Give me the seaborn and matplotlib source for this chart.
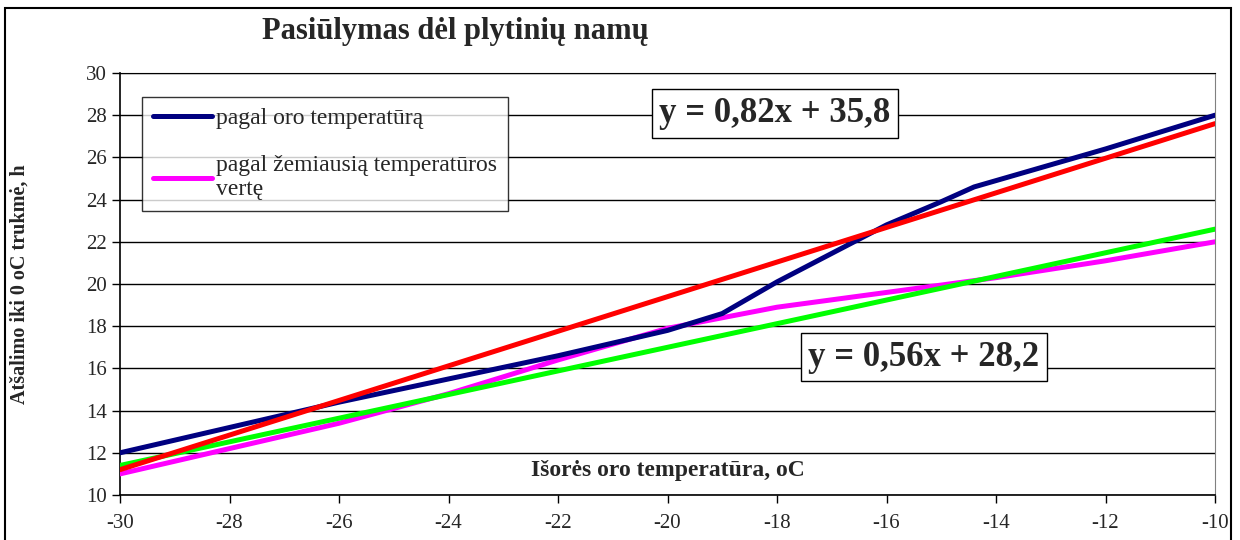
import matplotlib
matplotlib.use("Agg")
import numpy as np
import pandas as pd
import seaborn as sns
import matplotlib.pyplot as plt
from matplotlib.patches import Rectangle

# data
temp_air = [-30, -28, -26, -24, -22, -20, -19, -18, -16, -15, -14.4, -12, -10]
hours_air = [12.0, 13.2, 14.4, 15.5, 16.6, 17.8, 18.6, 20.1, 22.8, 23.9, 24.6, 26.4, 28.0]

temp_low = [-30, -28, -26, -24, -22, -20, -18, -16, -14, -12, -10]
hours_low = [11.0, 12.2, 13.4, 14.8, 16.4, 17.9, 18.9, 19.6, 20.3, 21.1, 22.0]

trend_x = [-30, -10]
trend_red = [11.2, 27.6]
trend_green = [11.4, 22.6]

label_air = "pagal oro temperatūrą"
label_low = "pagal žemiausią temperatūros\nvertę"
eq_red = "y = 0,82x + 35,8"
eq_green = "y = 0,56x + 28,2"

sns.set_style("white")
plt.rcParams['font.family'] = ['Liberation Serif', 'DejaVu Serif']
plt.rcParams['axes.unicode_minus'] = False

fig = plt.figure(figsize=(12.4, 5.4), dpi=100)
ax = fig.add_axes([120 / 1240, 45 / 540, 1095 / 1240, 422 / 540])

air = pd.DataFrame({"t": temp_air, "h": hours_air})
low = pd.DataFrame({"t": temp_low, "h": hours_low})

sns.lineplot(data=air, x="t", y="h", ax=ax, color="#000080", lw=3.6,
             label=label_air, zorder=4)
sns.lineplot(data=low, x="t", y="h", ax=ax, color="#ff00ff", lw=3.6,
             label=label_low, zorder=3)
sns.lineplot(x=trend_x, y=trend_red, ax=ax, color="#ff0000", lw=3.6, zorder=5)
sns.lineplot(x=trend_x, y=trend_green, ax=ax, color="#00ff00", lw=3.6, zorder=4)

ax.set_xlim(-30, -10)
ax.set_ylim(10, 30)
ax.set_xticks(np.arange(-30, -9, 2))
ax.set_yticks(np.arange(10, 31, 2))
ax.yaxis.grid(True, color="black", lw=1)
ax.xaxis.grid(False)
ax.tick_params(axis="both", labelsize=15, length=6, width=1, color="black",
               direction="out", left=True, bottom=True)
ax.tick_params(axis="x", pad=8)
for side in ["left", "bottom"]:
    ax.spines[side].set_color("black")
    ax.spines[side].set_linewidth(1.2)
ax.spines["right"].set_color("#808080")
ax.spines["top"].set_color("black")

ax.set_xlabel("")
ax.set_ylabel("Atšalimo iki 0 oC trukmė, h", fontsize=14.5, fontweight="bold")
ax.yaxis.set_label_coords(-0.083, 0.5)
ax.text(0.5, 0.059, "Išorės oro temperatūra, oC", transform=ax.transAxes,
        ha="center", va="center", fontsize=17, fontweight="bold")

leg = ax.legend(loc="upper left", bbox_to_anchor=(0.02, 0.943), fontsize=17,
                frameon=True, fancybox=False, edgecolor="black",
                handlelength=2.5, handletextpad=0.2, labelspacing=1.1,
                borderpad=0.45, borderaxespad=0)
leg.get_frame().set_linewidth(1)

box = dict(boxstyle="square,pad=0.22", facecolor="white", edgecolor="black", lw=1)
ax.text(0.598, 0.904, eq_red, transform=ax.transAxes, ha="center", va="center",
        fontsize=25, fontweight="bold", bbox=box, zorder=6)
ax.text(0.734, 0.327, eq_green, transform=ax.transAxes, ha="center", va="center",
        fontsize=25, fontweight="bold", bbox=box, zorder=6)

fig.text(0.367, 0.942, "Pasiūlymas dėl plytinių namų", ha="center", va="center",
         fontsize=22, fontweight="bold")

fig.patches.append(Rectangle((5 / 1240, -0.05), 1226 / 1240, 1.05 - 8 / 540,
                             transform=fig.transFigure, fill=False,
                             edgecolor="black", lw=1.5))

fig.savefig("out.png", dpi=100)
